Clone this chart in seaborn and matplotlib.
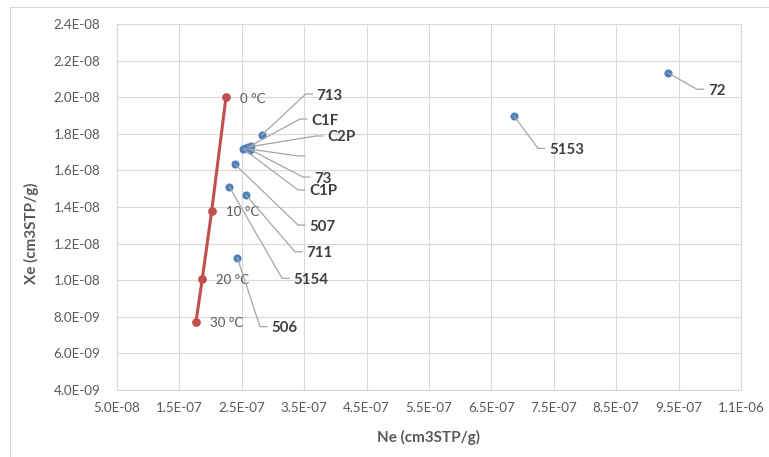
import matplotlib
matplotlib.use("Agg")
import matplotlib.pyplot as plt
from matplotlib.lines import Line2D
from matplotlib.patches import Rectangle
from matplotlib.transforms import IdentityTransform
import seaborn as sns
import pandas as pd

# Sample measurements (cm3STP/g)
sample_names = ["713", "C1F", "C2P", "", "73", "C1P", "507", "5154", "711", "506", "5153", "72"]
ne_values = [2.819e-7, 2.647e-7, 2.607e-7, 2.551e-7, 2.631e-7, 2.527e-7,
             2.391e-7, 2.300e-7, 2.562e-7, 2.428e-7, 6.862e-7, 9.325e-7]
xe_values = [1.793e-8, 1.736e-8, 1.728e-8, 1.720e-8, 1.714e-8, 1.717e-8,
             1.633e-8, 1.511e-8, 1.467e-8, 1.123e-8, 1.897e-8, 2.134e-8]

# Air-saturated water equilibrium line
eq_labels = ["0 °C", "10 °C", "20 °C", "30 °C"]
eq_ne = [2.247e-7, 2.018e-7, 1.867e-7, 1.766e-7]
eq_xe = [2.000e-8, 1.380e-8, 1.008e-8, 7.73e-9]

# Axis ticks
x_ticks = [5e-8, 1.5e-7, 2.5e-7, 3.5e-7, 4.5e-7, 5.5e-7, 6.5e-7, 7.5e-7, 8.5e-7, 9.5e-7, 1.05e-6]
x_tick_labels = ["5.0E-08", "1.5E-07", "2.5E-07", "3.5E-07", "4.5E-07", "5.5E-07",
                 "6.5E-07", "7.5E-07", "8.5E-07", "9.5E-07", "1.1E-06"]
y_ticks = [4e-9, 6e-9, 8e-9, 1e-8, 1.2e-8, 1.4e-8, 1.6e-8, 1.8e-8, 2e-8, 2.2e-8, 2.4e-8]
y_tick_labels = ["4.0E-09", "6.0E-09", "8.0E-09", "1.0E-08", "1.2E-08", "1.4E-08",
                 "1.6E-08", "1.8E-08", "2.0E-08", "2.2E-08", "2.4E-08"]

# Leader-line elbow offsets in pixels (right, down) for each sample label
leader_offsets = [(44, -41), (49, -26.5), (67.5, -11), (53, 7.5), (53, 27.5), (54.5, 41),
                  (63, 60.7), (52.7, 91.6), (49.3, 57), (22.7, 69), (24, 32.3), (29.3, 16.6)]

sns.set_theme(style="whitegrid")
plt.rcParams["font.family"] = ["Lato", "DejaVu Sans"]

BLUE = "#4F81BD"
RED = "#C0504D"
GRID = "#d9d9d9"
TXT = "#595959"
W, H = 769, 457

fig = plt.figure(figsize=(W / 100, H / 100), dpi=100)
fig.patch.set_facecolor("white")
ax = fig.add_axes([117 / W, (H - 390) / H, 624 / W, 366 / H])

samples = pd.DataFrame({"Ne": ne_values, "Xe": xe_values, "name": sample_names})
equil = pd.DataFrame({"Ne": eq_ne, "Xe": eq_xe, "T": eq_labels})

sns.scatterplot(data=samples, x="Ne", y="Xe", color=BLUE, s=34, linewidth=0,
                ax=ax, legend=False, zorder=3)
sns.lineplot(data=equil, x="Ne", y="Xe", sort=False, estimator=None, color=RED,
             linewidth=2.2, marker="o", markersize=6.3, markeredgewidth=0, ax=ax, zorder=4)

ax.set_xlim(x_ticks[0], x_ticks[-1])
ax.set_ylim(y_ticks[0], y_ticks[-1])
ax.set_xticks(x_ticks)
ax.set_xticklabels(x_tick_labels)
ax.set_yticks(y_ticks)
ax.set_yticklabels(y_tick_labels)
ax.tick_params(axis="both", length=0, labelsize=9.6, labelcolor=TXT)
ax.tick_params(axis="x", pad=9)
ax.tick_params(axis="y", pad=12)
ax.set_xlabel("")
ax.set_ylabel("")
ax.grid(True, color=GRID, linewidth=0.8)
ax.set_facecolor("white")
for sp in ax.spines.values():
    sp.set_visible(True)
    sp.set_color(GRID)
    sp.set_linewidth(0.8)

# Axis titles
fig.text(429 / W, 1 - 437 / H, "Ne (cm3STP/g)", ha="center", va="center",
         fontsize=11, fontweight="bold", color=TXT)
fig.text(31 / W, 1 - 233 / H, "Xe (cm3STP/g)", ha="center", va="center",
         rotation=90, fontsize=11, fontweight="bold", color=TXT)

# Chart-area frame
fig.add_artist(Rectangle((10 / W, -0.1), 1.2, 1 - 7 / H + 0.1, transform=fig.transFigure,
                         fill=False, edgecolor=GRID, linewidth=0.8, clip_on=False))

# Temperature labels on the equilibrium line
for t, x, y in zip(eq_labels, eq_ne, eq_xe):
    ax.annotate(t, xy=(x, y), xytext=(14, -1.5), textcoords="offset pixels",
                ha="left", va="center", fontsize=9.5, color=TXT)

# Sample labels with leader lines
fig.canvas.draw()
STUB, GAP = 7, 4
for name, x, y, (dx, dy) in zip(sample_names, ne_values, xe_values, leader_offsets):
    px, py = ax.transData.transform((x, y))
    ex, ey = px + dx, py - dy
    fig.add_artist(Line2D([px, ex, ex + STUB], [py, ey, ey], transform=IdentityTransform(),
                          color="#a6a6a6", linewidth=0.9, zorder=2))
    if name:
        fig.text(ex + STUB + GAP, ey - 1.5, name, transform=IdentityTransform(),
                 ha="left", va="center", fontsize=10.8, fontweight="bold", color="#404040")

fig.savefig("out.png", dpi=100, facecolor="white")
